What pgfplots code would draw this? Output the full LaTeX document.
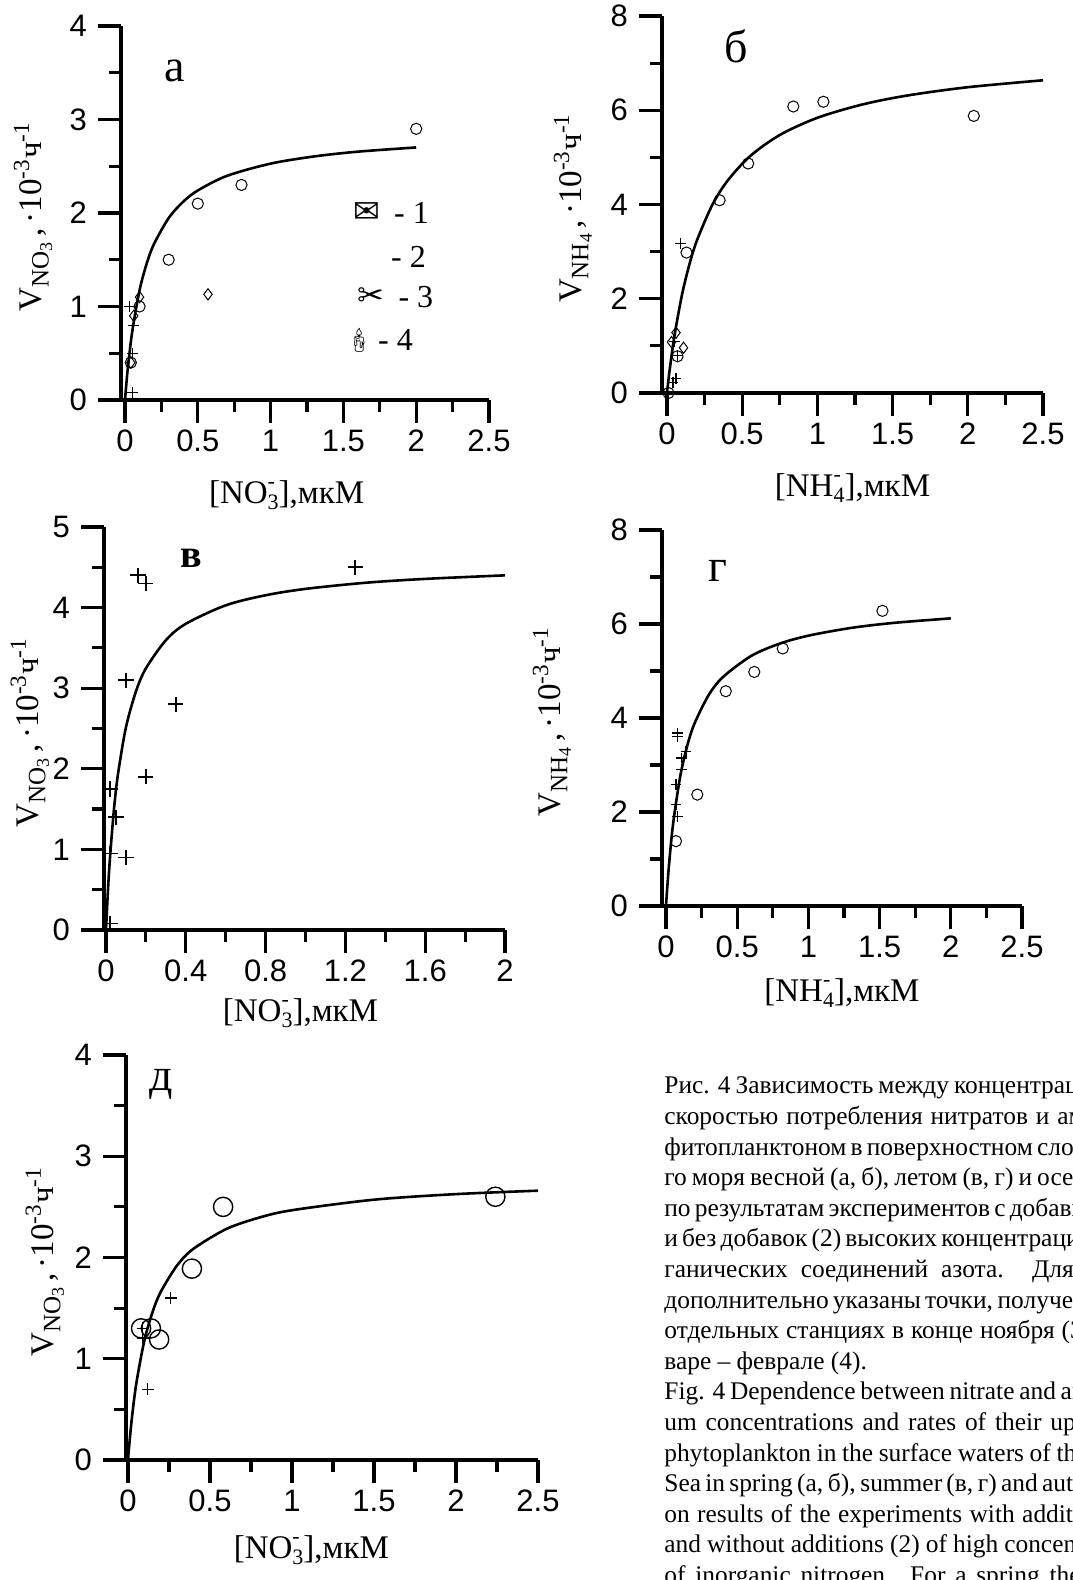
\documentclass[border=0pt]{standalone}
\usepackage{fontspec}
\setmainfont{Liberation Serif}
\setsansfont{Liberation Sans}
\newfontfamily\dejavu{DejaVu Sans}
\newfontfamily\emoji{Noto Emoji}
\usepackage{pgfplots}
\pgfplotsset{compat=1.18}

\pgfplotsset{
  panel/.style={
    scale only axis, clip=false,
    axis x line*=bottom, axis y line*=left,
    axis line style={line width=1.6pt},
    tick style={line width=1.6pt, black},
    tick align=outside,
    major tick length=11.5pt, minor tick length=6pt,
    minor x tick num=1, minor y tick num=1,
    ymin=0,
    ticklabel style={font=\fontsize{15.5}{17}\selectfont\sffamily},
    yticklabel style={xshift=-2pt},
    /pgf/number format/assume math mode=true,
    label style={font=\fontsize{16.5}{18}\selectfont, anchor=center},
  },
  curve/.style={line width=1.3pt, smooth, no marks, black},
  circ/.style={only marks, mark=o, mark size=2.8pt, mark options={line width=0.5pt, black}},
  dia/.style={only marks, mark=diamond, mark size=2.8pt, mark options={line width=0.5pt, black}},
  plus/.style={only marks, mark=+, mark size=2.7pt, mark options={line width=0.6pt, black}},
}

% subscript ion for the rate labels, stacked charge for the concentration labels
\newcommand{\sub}[2]{\raisebox{-0.45ex}{\fontsize{12.5}{13}\selectfont #1\raisebox{-0.3ex}{\fontsize{9}{9}\selectfont #2}}}
\newcommand{\supsub}[2]{{\fontsize{11}{11}\selectfont\raisebox{-0.6ex}{\shortstack[l]{#1\\#2}}}}
\newcommand{\vno}{V\sub{NO}{3}\,,\,·10\textsuperscript{-3}ч\textsuperscript{-1}}
\newcommand{\vnh}{V\sub{NH}{4}\,,\,·10\textsuperscript{-3}ч\textsuperscript{-1}}
\newcommand{\cno}{[NO\supsub{-}{3}],мкМ}
\newcommand{\cnh}{[NH\supsub{-}{4}],мкМ}
\newcommand{\panelfont}{\fontsize{23}{26}\selectfont}
\newcommand{\legfont}{\fontsize{16}{18}\selectfont}
\newcommand{\capline}[1]{\makebox[244pt][s]{#1}}

\begin{document}
\begin{tikzpicture}
\useasboundingbox (0,0) rectangle (536pt,790pt);
\clip (0,0) rectangle (536pt,790pt);

% ---- а ----
\begin{axis}[panel, at={(60.5pt,590pt)}, anchor=south west,
  width=184pt, height=187pt,
  xmin=-0.0275, xmax=2.5, ymax=4,
  xtick={0,0.5,1,1.5,2,2.5}, ytick={0,1,2,3,4},
  xlabel={\cno}, ylabel={\vno},
  xlabel style={at={(axis description cs:0.45,-0.254)}},
  ylabel style={at={(axis description cs:-0.239,0.49)}},
]
\addplot[curve] coordinates {(0,0) (0.01,0.185) (0.02,0.347) (0.05,0.736) (0.1,1.174)
  (0.15,1.465) (0.2,1.671) (0.3,1.946) (0.4,2.121) (0.5,2.241) (0.7,2.397)
  (1.0,2.528) (1.3,2.605) (1.6,2.656) (2.0,2.701)};
\addplot[circ] coordinates {(2.0,2.9) (0.8,2.3) (0.5,2.1) (0.3,1.5) (0.1,1.0) (0.04,0.4)};
\addplot[dia] coordinates {(0.57,1.13) (0.1,1.1) (0.06,0.9) (0.04,0.4)};
\addplot[plus] coordinates {(0.03,1.0) (0.06,0.8) (0.05,0.5) (0.05,0.08)};
\node[font=\panelfont] at (axis cs:0.34,3.52) {а};
\node[font=\legfont\dejavu] at (axis cs:1.66,2.0) {✉};
\node[font=\legfont, anchor=west] at (axis cs:1.80,2.0) {- 1};
\node[font=\legfont, anchor=west] at (axis cs:1.78,1.53) {- 2};
\node[font=\legfont\dejavu] at (axis cs:1.69,1.10) {✂};
\node[font=\legfont, anchor=west] at (axis cs:1.83,1.10) {- 3};
\node[font=\fontsize{12}{14}\selectfont\emoji] at (axis cs:1.61,0.64) {🕯};
\node[font=\legfont, anchor=west] at (axis cs:1.69,0.64) {- 4};
\end{axis}

% ---- б ----
\begin{axis}[panel, at={(331pt,593.5pt)}, anchor=south west,
  width=190.5pt, height=188.5pt,
  xmin=-0.033, xmax=2.5, ymax=8,
  xtick={0,0.5,1,1.5,2,2.5}, ytick={0,2,4,6,8},
  xlabel={\cnh}, ylabel={\vnh},
  xlabel style={at={(axis description cs:0.5,-0.252)}},
  ylabel style={at={(axis description cs:-0.234,0.49)}},
]
\addplot[curve] coordinates {(0,0) (0.01,0.281) (0.02,0.541) (0.05,1.217) (0.1,2.086)
  (0.15,2.738) (0.2,3.244) (0.3,3.982) (0.4,4.492) (0.55,5.019) (0.75,5.475)
  (1.0,5.84) (1.3,6.123) (1.6,6.314) (2.0,6.489) (2.5,6.636)};
\addplot[circ] coordinates {(2.04,5.88) (1.04,6.18) (0.84,6.08) (0.54,4.87) (0.35,4.09)
  (0.13,2.98) (0.07,0.78) (0.01,0)};
\addplot[plus] coordinates {(0.09,3.18) (0.07,0.8) (0.06,0.3) (0.04,0.22) (0.05,1.1)};
\addplot[dia] coordinates {(0.06,1.28) (0.03,1.08) (0.11,0.96)};
\node[font=\panelfont] at (axis cs:0.46,7.35) {б};
\end{axis}

% ---- в ----
\begin{axis}[panel, at={(52pt,325pt)}, anchor=south west,
  width=200.5pt, height=201.5pt,
  xmin=-0.01, xmax=2, ymax=5,
  xtick={0,0.4,0.8,1.2,1.6,2}, ytick={0,1,2,3,4,5},
  xlabel={\cno}, ylabel={\vno},
  xlabel style={at={(axis description cs:0.49,-0.206)}},
  ylabel style={at={(axis description cs:-0.185,0.49)}},
]
\addplot[curve] coordinates {(0,0) (0.01,0.497) (0.02,0.896) (0.04,1.499) (0.06,1.932)
  (0.1,2.514) (0.15,2.959) (0.2,3.246) (0.3,3.595) (0.4,3.799) (0.6,4.028)
  (0.8,4.153) (1.0,4.232) (1.3,4.308) (1.6,4.356) (2.0,4.40)};
\addplot[plus, mark size=3.8pt, mark options={line width=0.9pt}] coordinates {
  (1.25,4.5) (0.16,4.4) (0.2,4.3) (0.1,3.1) (0.35,2.8) (0.2,1.9) (0.02,1.75)
  (0.05,1.4) (0.02,0.95) (0.1,0.9) (0.02,0.08)};
\node[font=\fontsize{20}{24}\selectfont\bfseries] at (axis cs:0.43,4.61) {в};
\end{axis}

% ---- г ----
\begin{axis}[panel, at={(331pt,337pt)}, anchor=south west,
  width=180pt, height=188pt,
  xmin=-0.028, xmax=2.5, ymax=8,
  xtick={0,0.5,1,1.5,2,2.5}, ytick={0,2,4,6,8},
  xlabel={\cnh}, ylabel={\vnh},
  xlabel style={at={(axis description cs:0.5,-0.231)}},
  ylabel style={at={(axis description cs:-0.306,0.49)}},
]
\addplot[curve] coordinates {(0,0) (0.02,0.833) (0.05,1.749) (0.1,2.759) (0.15,3.418)
  (0.2,3.881) (0.3,4.490) (0.4,4.872) (0.6,5.324) (0.8,5.584) (1.0,5.752)
  (1.3,5.917) (1.6,6.024) (2.0,6.12)};
\addplot[circ] coordinates {(1.52,6.28) (0.82,5.48) (0.62,4.98) (0.42,4.57) (0.22,2.37) (0.07,1.38)};
\addplot[plus] coordinates {(0.08,3.68) (0.08,3.6) (0.14,3.29) (0.11,3.15) (0.11,2.9)
  (0.07,2.58) (0.07,2.16) (0.08,1.9)};
\node[font=\fontsize{23}{26}\selectfont] at (axis cs:0.365,7.13) {г};
\end{axis}

% ---- д ----
\begin{axis}[panel, at={(63pt,60pt)}, anchor=south west,
  width=206pt, height=202.5pt,
  xmin=-0.012, xmax=2.5, ymax=4,
  xtick={0,0.5,1,1.5,2,2.5}, ytick={0,1,2,3,4},
  xlabel={\cno}, ylabel={\vno},
  xlabel style={at={(axis description cs:0.45,-0.222)}},
  ylabel style={at={(axis description cs:-0.197,0.49)}},
]
\addplot[curve] coordinates {(0,0) (0.02,0.355) (0.05,0.747) (0.1,1.179) (0.15,1.462)
  (0.2,1.661) (0.3,1.923) (0.4,2.087) (0.6,2.282) (0.8,2.394) (1.0,2.467)
  (1.5,2.571) (2.0,2.626) (2.5,2.66)};
\addplot[circ, mark size=4.8pt, mark options={line width=0.7pt}] coordinates {
  (2.24,2.6) (0.58,2.5) (0.39,1.89) (0.19,1.19) (0.14,1.3) (0.08,1.3)};
\addplot[plus, mark size=3pt] coordinates {(0.26,1.6) (0.09,1.3) (0.09,1.2) (0.12,0.7)};
\node[font=\panelfont] at (axis cs:0.204,3.71) {д};
\end{axis}

% ---- caption ----
\begin{scope}[every node/.style={anchor=base west, inner sep=0pt,
    font=\fontsize{12.7}{15.3}\selectfont}]
\foreach \t [count=\i] in {
  {Рис. 4 Зависимость между концентрациями и},
  {скоростью потребления нитратов и аммония},
  {фитопланктоном в поверхностном слое Черно-},
  {го моря весной (а, б), летом (в, г) и осенью (д)},
  {по результатам экспериментов с добавками (1)},
  {и без добавок (2) высоких концентраций неор-},
  {ганических соединений азота. Для весны},
  {дополнительно указаны точки, полученные на},
  {отдельных станциях в конце ноября (3) и ян-}}
  \node at (332pt,{243pt-(\i-1)*15.3pt}) {\capline{\t}};
\node at (332pt,{243pt-9*15.3pt}) {варе – феврале (4).};
\foreach \t [count=\i] in {
  {Fig. 4 Dependence between nitrate and ammoni-},
  {um concentrations and rates of their uptake by},
  {phytoplankton in the surface waters of the Black},
  {Sea in spring (а, б), summer (в, г) and autumn (д)},
  {on results of the experiments with additions (1)},
  {and without additions (2) of high concentrations},
  {of inorganic nitrogen. For a spring the points}}
  \node at (332pt,{243pt-(\i+9)*15.3pt}) {\capline{\t}};
\end{scope}
\end{tikzpicture}
\end{document}
